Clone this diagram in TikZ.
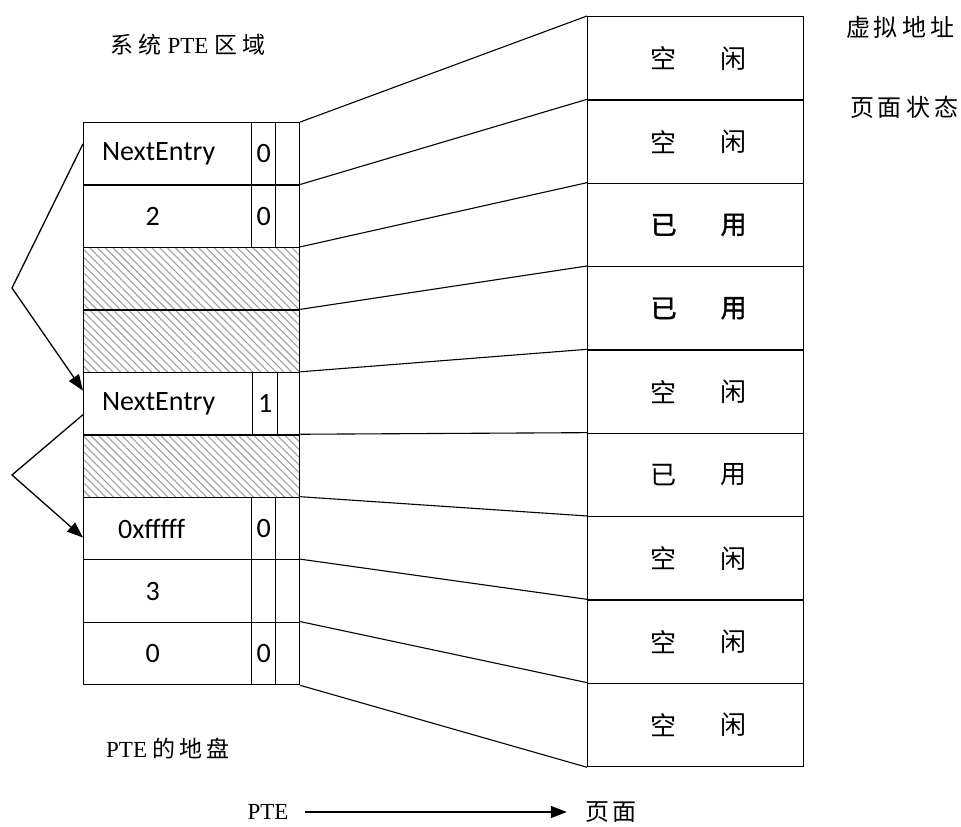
\documentclass[tikz,border=0pt]{standalone}
\usepackage{fontspec}
\setmainfont{Liberation Serif}
\newfontfamily\cjkfont{Noto Sans CJK SC}
\newfontfamily\cjkboldfont[FakeBold=1.6]{Noto Sans CJK SC}
\newfontfamily\calibrifont{Carlito}
\usetikzlibrary{patterns,patterns.meta,arrows.meta,calc}
\begin{document}
\begin{tikzpicture}[x=1pt,y=-1pt,
  rowbox/.style={draw,line width=1.3pt,inner sep=0pt,anchor=north west,minimum width=216pt,minimum height=62.45pt},
  colbox/.style={draw,line width=1.3pt,inner sep=0pt,anchor=north west,minimum width=24pt,minimum height=62.45pt},
  pagebox/.style={draw,line width=1.3pt,inner sep=0pt,anchor=north west,minimum width=216pt,minimum height=83.33pt},
  hatched/.style={pattern={Lines[angle=-45,distance=5.5pt,line width=1.1pt]},pattern color=gray!75},
  celltext/.style={font=\calibrifont\fontsize{28}{32}\selectfont,inner sep=0pt},
  cjktext/.style={font=\cjkfont\fontsize{26}{30}\selectfont,inner sep=0pt},
  cjkbold/.style={font=\cjkboldfont\fontsize{26}{30}\selectfont,inner sep=0pt},
  label/.style={font=\fontsize{23}{27}\selectfont,inner sep=0pt},
  cjklabel/.style={font=\cjkfont\fontsize{24}{28}\selectfont,inner sep=0pt},
  link/.style={line width=1.1pt},
  arrowline/.style={line width=1.3pt,-{Triangle[length=16pt,width=12pt]}}
]
\useasboundingbox (0,0) rectangle (961,827);

% left PTE table rows
\foreach \i in {1,2,5,7,8,9}{
  \pgfmathsetmacro{\yy}{122+62.45*(\i-1)}
  \node[rowbox] (r\i) at (83,\yy) {};
}
\foreach \i in {3,4,6}{
  \pgfmathsetmacro{\yy}{122+62.45*(\i-1)}
  \node[rowbox,hatched] (r\i) at (83,\yy) {};
}
% column boxes
\foreach \i in {1,2,7,8,9}{
  \pgfmathsetmacro{\yy}{122+62.45*(\i-1)}
  \node[colbox] (a\i) at (251,\yy) {};
  \node[colbox] (b\i) at (275,\yy) {};
}
\node[colbox,minimum width=25pt] (a5) at (252,371.8) {};
\node[colbox,minimum width=22pt] (b5) at (277,371.8) {};

% cell texts
\node[celltext] (t1) at ([xshift=-33pt]r1.center) {NextEntry};
\node[celltext] (t2) at ([xshift=-39pt]r2.center) {2};
\node[celltext] (t5) at ([xshift=-33pt]r5.center) {NextEntry};
\node[celltext] (t7) at ([xshift=-40pt]r7.center) {0xfffff};
\node[celltext] (t8) at ([xshift=-39pt]r8.center) {3};
\node[celltext] (t9) at ([xshift=-39pt]r9.center) {0};
\node[celltext] (f1) at (a1.center) {0};
\node[celltext] (f2) at (a2.center) {0};
\node[celltext] (f5) at (a5.center) {1};
\node[celltext] (f7) at (a7.center) {0};
\node[celltext] (f9) at (a9.center) {0};

% right page table
\foreach \i/\ca/\cb/\st in {1/空/闲/cjktext,2/空/闲/cjktext,3/已/用/cjkbold,4/已/用/cjkbold,5/空/闲/cjktext,6/已/用/cjktext,7/空/闲/cjktext,8/空/闲/cjktext,9/空/闲/cjktext}{
  \pgfmathsetmacro{\yy}{16+83.33*(\i-1)}
  \node[pagebox] (p\i) at (587,\yy) {};
  \node[\st] (pa\i) at ([xshift=-32pt]p\i.center) {\ca};
  \node[\st] (pb\i) at ([xshift=38pt]p\i.center) {\cb};
}

% connectors
\foreach \i in {1,...,9}{
  \draw[link] (r\i.north east) -- (p\i.north west);
}
\draw[link] (r9.south east) -- (p9.south west);

% NextEntry chain arrows
\coordinate (k1) at (12,288);
\coordinate (k2) at (12,475);
\draw[arrowline] ([yshift=10pt]r1.west) -- (k1) -- ([yshift=13pt]r5.west);
\draw[arrowline] ([yshift=-11pt]r5.west) -- (k2) -- ([yshift=-9pt]r7.west);

% labels
\node[label] (title) at (188,45) {{\cjkfont 系\hspace{5pt}统} PTE {\cjkfont 区\hspace{5pt}域}};
\node[cjklabel] (va) at (900,27) {虚\hspace{4pt}拟\hspace{4pt}地\hspace{4pt}址};
\node[cjklabel] (ps) at (904,107) {页\hspace{4pt}面\hspace{4pt}状\hspace{4pt}态};
\node[label] (turf) at (168,748) {PTE {\cjkfont 的\hspace{4pt}地\hspace{4pt}盘}};
\node[label] (lpte) at (268,812) {PTE};
\node[cjklabel] (lpage) at (611,812) {页\hspace{4pt}面};
\draw[arrowline] ([xshift=16pt]lpte.east) -- ([xshift=-18pt]lpage.west);
\end{tikzpicture}
\end{document}
